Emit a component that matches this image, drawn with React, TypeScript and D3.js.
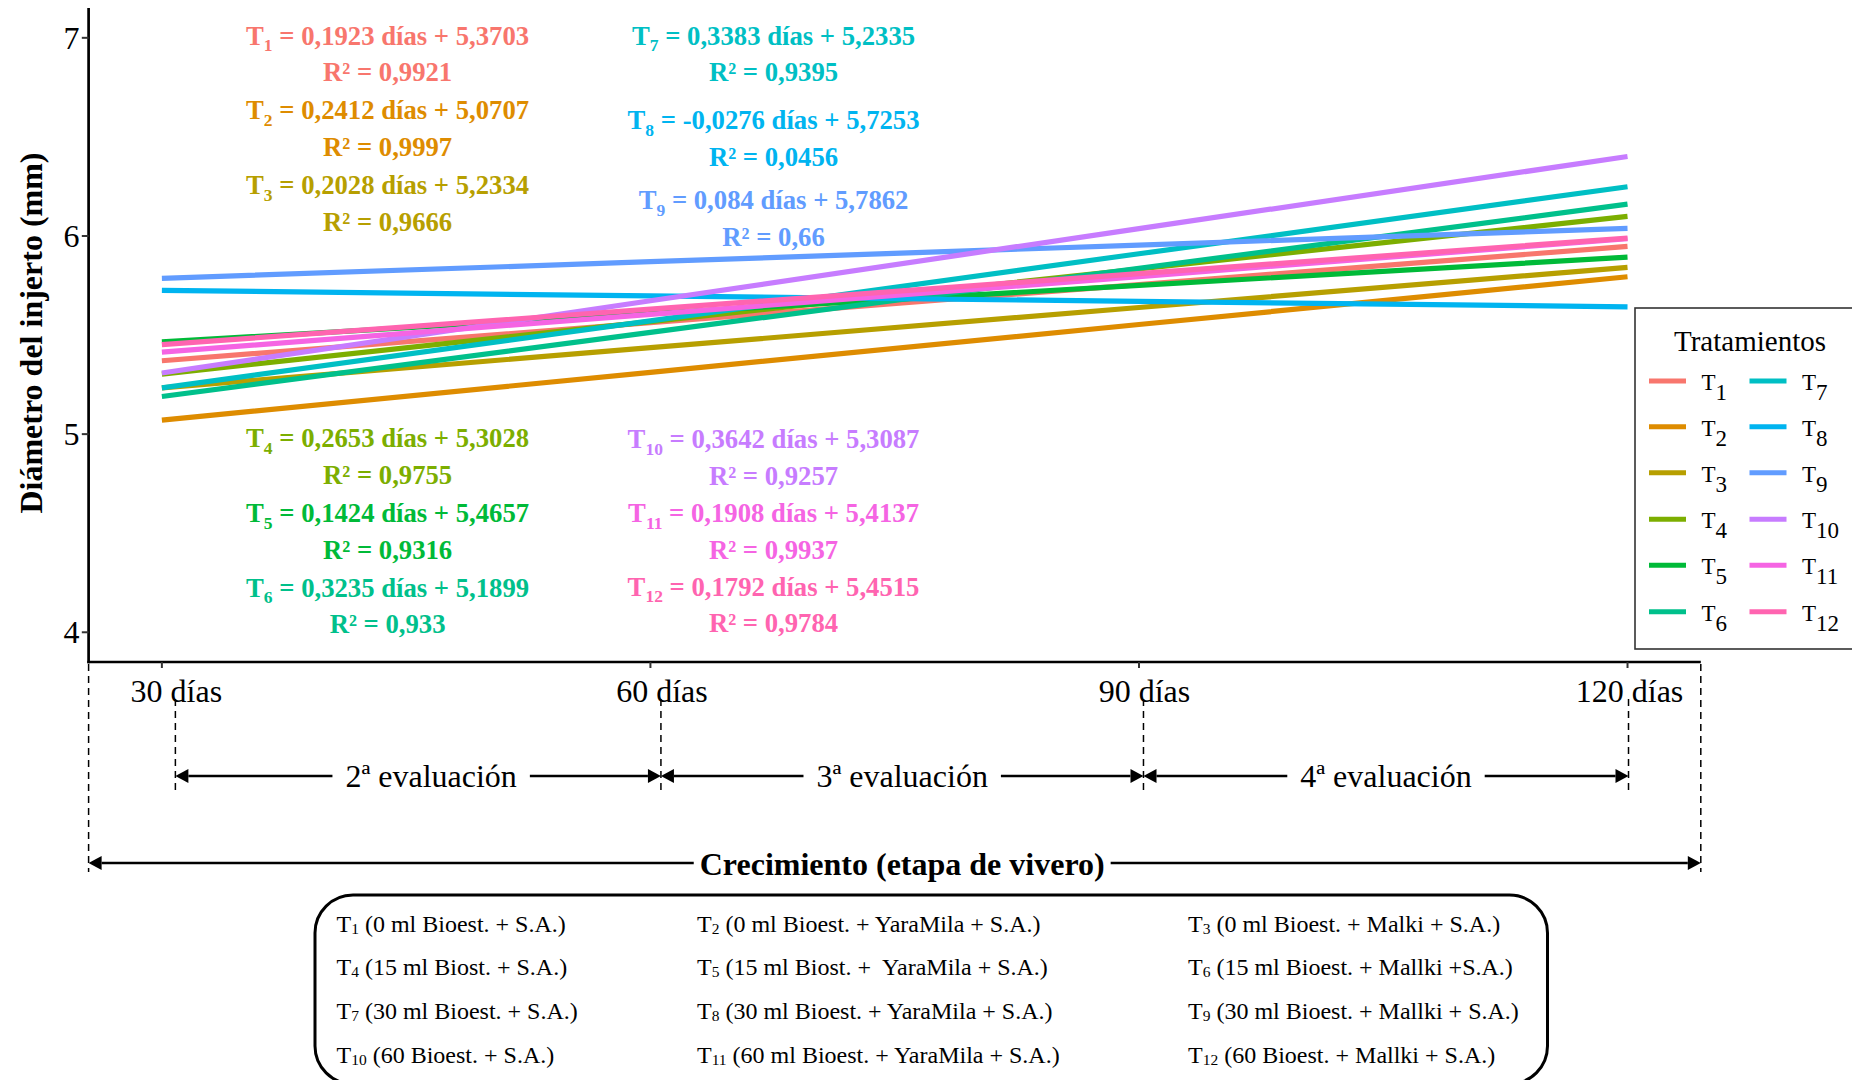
import React from 'react';
import * as d3 from 'd3';

// Evaluation dates (x axis) and the fitted linear models per treatment
const days = [30, 60, 90, 120];
const treatmentNumbers = [1, 2, 3, 4, 5, 6, 7, 8, 9, 10, 11, 12];
const slopes = [0.1923, 0.2412, 0.2028, 0.2653, 0.1424, 0.3235, 0.3383, -0.0276, 0.084, 0.3642, 0.1908, 0.1792];
const intercepts = [5.3703, 5.0707, 5.2334, 5.3028, 5.4657, 5.1899, 5.2335, 5.7253, 5.7862, 5.3087, 5.4137, 5.4515];
const rSquared = ['0,9921', '0,9997', '0,9666', '0,9755', '0,9316', '0,933', '0,9395', '0,0456', '0,66', '0,9257', '0,9937', '0,9784'];
const palette = ['#F8766D', '#DE8C00', '#B79F00', '#7CAE00', '#00BA38', '#00C08B', '#00BFC4', '#00B4F0', '#619CFF', '#C77CFF', '#F564E3', '#FF64B0'];
const yTicks = [4, 5, 6, 7];

// Where each equation label sits: column (0 = left, 1 = middle) and height in mm
const labelColumn = [0, 0, 0, 0, 0, 0, 1, 1, 1, 1, 1, 1];
const labelHeight = [7.01, 6.635, 6.255, 4.98, 4.6, 4.225, 7.01, 6.585, 6.18, 4.975, 4.6, 4.23];
const labelColumnX = [0.462, 1.252];

const evaluationNames = ['2', '3', '4'];
const treatmentDescriptions = [
  ' (0 ml Bioest. + S.A.)',
  ' (0 ml Bioest. + YaraMila + S.A.)',
  ' (0 ml Bioest. + Malki + S.A.)',
  ' (15 ml Biost. + S.A.)',
  ' (15 ml Biost. +  YaraMila + S.A.)',
  ' (15 ml Bioest. + Mallki +S.A.)',
  ' (30 ml Bioest. + S.A.)',
  ' (30 ml Bioest. + YaraMila + S.A.)',
  ' (30 ml Bioest. + Mallki + S.A.)',
  ' (60 Bioest. + S.A.)',
  ' (60 ml Bioest. + YaraMila + S.A.)',
  ' (60 Bioest. + Mallki + S.A.)',
];

const W = 1852;
const H = 1080;
const SERIF = "'Liberation Serif', 'Times New Roman', Times, serif";

const fmt = (v: number) => String(v).replace('.', ',');

let measureCtx: CanvasRenderingContext2D | null = null;
function textWidth(text: string, font: string): number {
  if (!measureCtx) {
    const c = document.createElement('canvas');
    measureCtx = c.getContext('2d');
  }
  if (!measureCtx) return text.length * 14;
  measureCtx.font = font;
  return measureCtx.measureText(text).width;
}

function Arrow({ x1, x2, y, headLeft, headRight, gapStart, gapEnd }: {
  x1: number; x2: number; y: number; headLeft: boolean; headRight: boolean; gapStart?: number; gapEnd?: number;
}) {
  const L = 13;
  const h = 7;
  const a = headLeft ? x1 + L : x1;
  const b = headRight ? x2 - L : x2;
  const segs: [number, number][] = gapStart !== undefined && gapEnd !== undefined
    ? [[a, gapStart], [gapEnd, b]]
    : [[a, b]];
  return (
    <g>
      {segs.map(([s, e], i) => (
        <line key={i} x1={s} x2={e} y1={y} y2={y} stroke="#000" strokeWidth={2.6} />
      ))}
      {headLeft && <polygon points={`${x1},${y} ${x1 + L},${y - h} ${x1 + L},${y + h}`} fill="#000" />}
      {headRight && <polygon points={`${x2},${y} ${x2 - L},${y - h} ${x2 - L},${y + h}`} fill="#000" />}
    </g>
  );
}

export default function App() {
  const x = d3.scaleLinear().domain([-0.15, 3.15]).range([88.6, 1700.8]);
  const y = d3.scaleLinear().domain([3.85, 7.15]).range([662, 8.1]);
  const axisTop = y(7.15);
  const axisBottom = y(3.85);

  const lineGen = d3.line<[number, number]>().x(d => x(d[0])).y(d => y(d[1]));

  const eqFont = 26.7;
  const r2Offset = 0.185;

  // Bracket marks of the evaluation periods below the axis
  const markOffsets = [13.5, 10.5, 4.5, 1];
  const marks = days.map((_, i) => x(i) + markOffsets[i]);
  const evalRowY = 776;
  const growthRowY = 863;
  const evalFontCss = `32px ${SERIF}`;
  const growthFontCss = `bold 32px ${SERIF}`;
  const evalLabelShift = [13, 0, 0];

  const growthLabel = 'Crecimiento (etapa de vivero)';
  const growthW = textWidth(growthLabel, growthFontCss);
  const growthCx = (x.range()[0] + x.range()[1]) / 2 + 7.5;

  const legendRowY = [381, 426.7, 472.7, 519.3, 565.3, 611.7];
  const legendColX = [1649, 1749.5];

  const boxRowY = [931.5, 975, 1019, 1062.5];
  const boxColX = [336.5, 697, 1188];

  return (
    <svg width={W} height={H} viewBox={`0 0 ${W} ${H}`}
      style={{ position: 'absolute', left: 0, top: 0, display: 'block', background: '#fff' }}
      fontFamily={SERIF}>
      <rect x={0} y={0} width={W} height={H} fill="#fff" />

      {/* Regression lines */}
      {treatmentNumbers.map((t, k) => {
        const pts: [number, number][] = days.map((_, i) => [i, intercepts[k] + slopes[k] * i]);
        return (
          <path key={t} d={lineGen(pts) || ''} fill="none" stroke={palette[k]} strokeWidth={5.2} />
        );
      })}

      {/* Axes */}
      <line x1={x.range()[0]} x2={x.range()[0]} y1={axisTop} y2={axisBottom + 1.3} stroke="#000" strokeWidth={2.7} />
      <line x1={x.range()[0] - 1.3} x2={x.range()[1]} y1={axisBottom} y2={axisBottom} stroke="#000" strokeWidth={2.7} />
      {yTicks.map(v => (
        <g key={v}>
          <line x1={x.range()[0] - 6.8} x2={x.range()[0]} y1={y(v)} y2={y(v)} stroke="#333" strokeWidth={2} />
          <text x={79.5} y={y(v) + 11} textAnchor="end" fontSize={32} fill="#000">{v}</text>
        </g>
      ))}
      {days.map((d, i) => (
        <g key={d}>
          <line x1={x(i)} x2={x(i)} y1={axisBottom} y2={axisBottom + 6} stroke="#333" strokeWidth={2} />
          <text x={marks[i] + 1} y={702} textAnchor="middle" fontSize={32} fill="#000">{`${d} días`}</text>
        </g>
      ))}
      <text transform={`translate(41.5, 333) rotate(-90)`} textAnchor="middle" fontSize={32} fontWeight="bold" fill="#000">
        Diámetro del injerto (mm)
      </text>

      {/* Equation labels */}
      {treatmentNumbers.map((t, k) => {
        const cx = x(labelColumnX[labelColumn[k]]);
        const cy = y(labelHeight[k]);
        const cy2 = y(labelHeight[k] - r2Offset);
        return (
          <g key={t} fill={palette[k]} fontWeight="bold" fontSize={eqFont}>
            <text x={cx} y={cy + 9} textAnchor="middle">
              T<tspan fontSize={17.5} dy={6.5}>{t}</tspan>
              <tspan dy={-6.5}>{` = ${fmt(slopes[k])} días + ${fmt(intercepts[k])}`}</tspan>
            </text>
            <text x={cx} y={cy2 + 9} textAnchor="middle">{`R² = ${rSquared[k]}`}</text>
          </g>
        );
      })}

      {/* Legend */}
      <rect x={1635} y={308} width={260} height={341} fill="#fff" stroke="#333" strokeWidth={1.6} />
      <text x={1750} y={351} textAnchor="middle" fontSize={29} fill="#000">Tratamientos</text>
      {treatmentNumbers.map((t, k) => {
        const col = k < 6 ? 0 : 1;
        const row = k % 6;
        const lx = legendColX[col];
        const ly = legendRowY[row];
        return (
          <g key={t}>
            <line x1={lx} x2={lx + 37} y1={ly} y2={ly} stroke={palette[k]} strokeWidth={5} />
            <text x={lx + 52.5} y={ly + 9} fontSize={23} fill="#000">
              T<tspan fontSize={23} dy={10}>{t}</tspan>
            </text>
          </g>
        );
      })}

      {/* Period brackets */}
      <line x1={x.range()[0]} x2={x.range()[0]} y1={664} y2={872} stroke="#000" strokeWidth={1.5} strokeDasharray="7 5" />
      <line x1={x.range()[1]} x2={x.range()[1]} y1={664} y2={872} stroke="#000" strokeWidth={1.5} strokeDasharray="7 5" />
      {marks.map((mx, i) => (
        <line key={i} x1={mx} x2={mx} y1={699} y2={793} stroke="#000" strokeWidth={1.5} strokeDasharray="7 5" />
      ))}
      {evaluationNames.map((n, i) => {
        const label = `${n}ª evaluación`;
        const w = textWidth(label, evalFontCss);
        const cx = (marks[i] + marks[i + 1]) / 2 + evalLabelShift[i];
        return (
          <g key={n}>
            <Arrow x1={marks[i]} x2={marks[i + 1]} y={evalRowY} headLeft headRight
              gapStart={cx - w / 2 - 13} gapEnd={cx + w / 2 + 13} />
            <text x={cx} y={evalRowY + 10.5} textAnchor="middle" fontSize={32} fill="#000">{label}</text>
          </g>
        );
      })}
      <Arrow x1={x.range()[0]} x2={x.range()[1]} y={growthRowY} headLeft headRight
        gapStart={growthCx - growthW / 2 - 6} gapEnd={growthCx + growthW / 2 + 6} />
      <text x={growthCx} y={growthRowY + 12} textAnchor="middle" fontSize={32} fontWeight="bold" fill="#000">
        {growthLabel}
      </text>

      {/* Treatment descriptions */}
      <rect x={315} y={895} width={1232.5} height={189} rx={38} ry={38} fill="none" stroke="#000" strokeWidth={3} />
      {treatmentNumbers.map((t, k) => {
        const col = k % 3;
        const row = Math.floor(k / 3);
        return (
          <text key={t} x={boxColX[col]} y={boxRowY[row]} fontSize={24} fill="#000" style={{ whiteSpace: 'pre' }}>
            T<tspan fontSize={15.5} dy={2}>{t}</tspan>
            <tspan dy={-2}>{treatmentDescriptions[k]}</tspan>
          </text>
        );
      })}
    </svg>
  );
}
